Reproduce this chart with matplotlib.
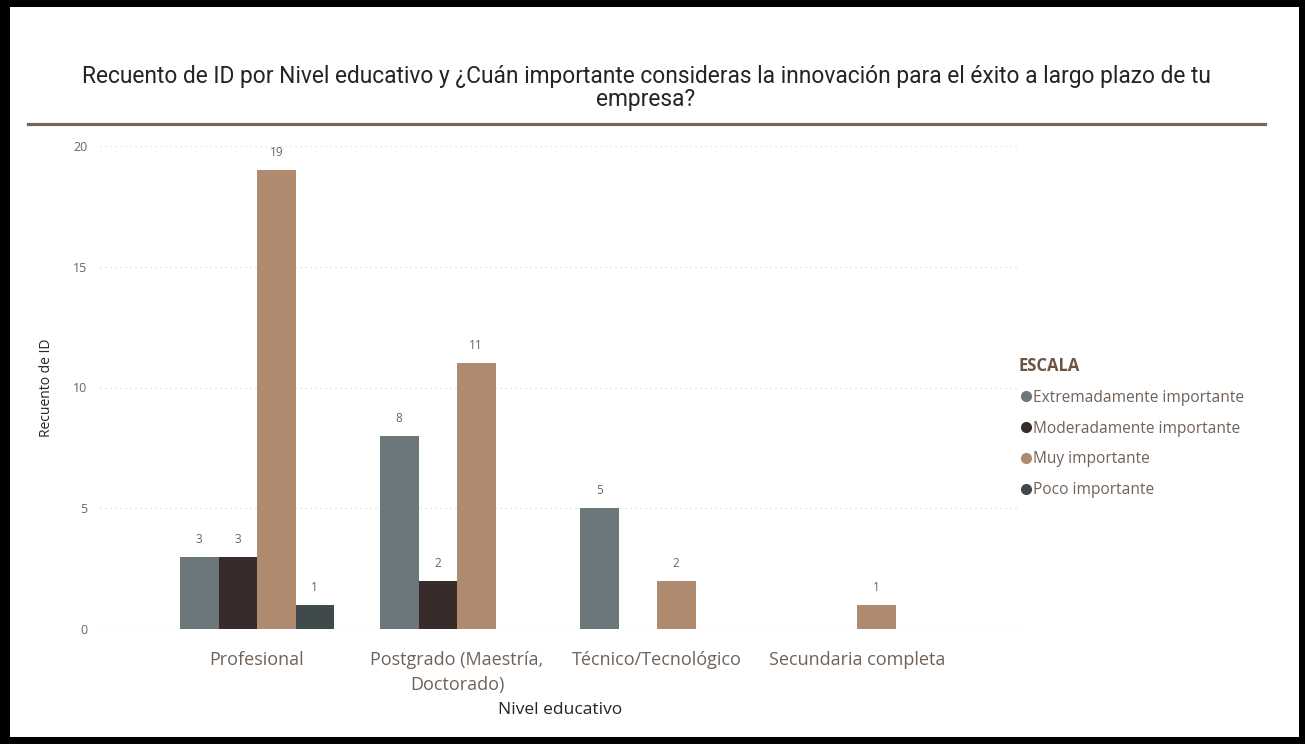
import numpy as np
import matplotlib.pyplot as plt
from matplotlib.patches import Rectangle
from matplotlib.lines import Line2D

niveles = ["Profesional", "Postgrado (Maestría,\nDoctorado)", "Técnico/Tecnológico", "Secundaria completa"]
escalas = ["Extremadamente importante", "Moderadamente importante", "Muy importante", "Poco importante"]
colores = ["#6b777b", "#372c2a", "#b08a6e", "#3e4a4c"]
# conteos por escala (filas) y nivel educativo (columnas), 0 = sin barra
conteos = [
    [3, 8, 5, 0],
    [3, 2, 0, 0],
    [19, 11, 2, 1],
    [1, 0, 0, 0],
]

plt.rcParams["font.family"] = ["Open Sans", "DejaVu Sans"]

fig = plt.figure(figsize=(13.05, 7.44), dpi=100)
fig.patch.set_facecolor("black")
W, H = 1305, 744
# white card inside the black frame
fig.patches.append(Rectangle((10 / W, 1 - 737 / H), 1289 / W, 730 / H,
                             transform=fig.transFigure, facecolor="white", edgecolor="none", zorder=-10))

ax = fig.add_axes([100 / W, 1 - 629 / H, 920 / W, (629 - 146) / H])
ax.set_facecolor("white")

x = np.arange(len(niveles))
ancho = 0.1925
for i, (esc, col) in enumerate(zip(escalas, colores)):
    offs = (i - 1.5) * ancho
    for j, v in enumerate(conteos[i]):
        if v == 0:
            continue
        ax.bar(x[j] + offs, v, width=ancho, color=col, edgecolor="none", zorder=2)
        ax.text(x[j] + offs, v + 0.45, str(v), ha="center", va="bottom",
                fontsize=8.5, color="#6f6259", clip_on=False)

ax.set_xlim(-0.785, 3.815)
ax.set_ylim(0, 20)
ax.set_yticks([0, 5, 10, 15, 20])
ax.grid(axis="y", color="#d9d9d9", linestyle=(0, (1, 3)), linewidth=0.9, zorder=0)
ax.set_axisbelow(True)
for s in ax.spines.values():
    s.set_visible(False)
ax.tick_params(axis="y", length=0, labelsize=9, labelcolor="#6f6259", pad=9)
ax.tick_params(axis="x", length=0, labelsize=13, labelcolor="#6f6259", pad=16)
ax.set_xticks(x)
ax.set_xticklabels(niveles, linespacing=1.45)
ax.set_xlabel("Nivel educativo", fontsize=12.5, color="#252423", labelpad=6)
ax.set_ylabel("Recuento de ID", fontsize=10, color="#252423", labelpad=14)

fig.text(646 / W, 1 - 88 / H,
         "Recuento de ID por Nivel educativo y ¿Cuán importante consideras la innovación para el éxito a largo plazo de tu\nempresa?",
         ha="center", va="center", fontsize=16.4, color="#252423", linespacing=1.05,
         family=["Roboto", "DejaVu Sans"])
fig.add_artist(Line2D([28 / W, 1265 / W], [1 - 124 / H, 1 - 124 / H], transform=fig.transFigure,
                      color="#7b6452", linewidth=2.3))

handles = [Line2D([], [], marker="o", linestyle="none", markersize=7, color=c) for c in colores]
leg = fig.legend(handles, escalas, title="ESCALA", loc="upper left",
                 bbox_to_anchor=(1005 / W, 1 - 343 / H), frameon=False, fontsize=11.2,
                 labelcolor="#6f6259", handletextpad=0.0, handlelength=0.9,
                 labelspacing=0.95, alignment="left",
                 title_fontproperties={"weight": "bold", "size": 12})
leg.get_title().set_color("#6b5443")

fig.savefig("out.png", dpi=100, facecolor=fig.get_facecolor())
